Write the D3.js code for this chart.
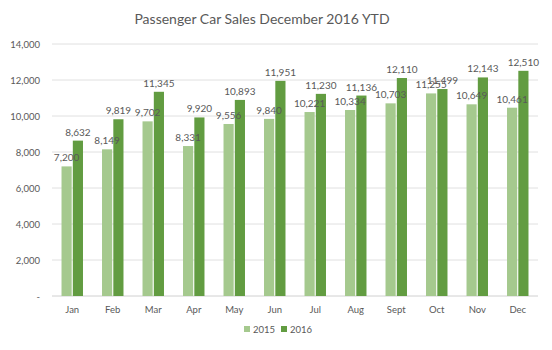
<!DOCTYPE html>
<html>
<head>
<meta charset="utf-8">
<script src="https://cdn.jsdelivr.net/npm/d3@7"></script>
<style>
  body { margin: 0; background: #fff; }
  text { font-family: Lato, "Open Sans", sans-serif; fill: #595959; }
</style>
</head>
<body>
<svg id="chart"></svg>
<script>
// chart data
const months = ['Jan', 'Feb', 'Mar', 'Apr', 'May', 'Jun', 'Jul', 'Aug', 'Sept', 'Oct', 'Nov', 'Dec'];
const years = ['2015', '2016'];
const sales2015 = [7200, 8149, 9702, 8331, 9556, 9840, 10221, 10334, 10703, 11255, 10649, 10461];
const sales2016 = [8632, 9819, 11345, 9920, 10893, 11951, 11230, 11136, 12110, 11499, 12143, 12510];
const yTicks = [0, 2000, 4000, 6000, 8000, 10000, 12000, 14000];

const colors = { '2015': '#a5c98e', '2016': '#629c41' };

const width = 552, height = 350;
const margin = { top: 44, right: 14, bottom: 54, left: 52 };

const svg = d3.select('#chart')
    .attr('width', width)
    .attr('height', height);

// title
svg.append('text')
    .attr('x', 262)
    .attr('y', 24)
    .attr('text-anchor', 'middle')
    .style('font-size', '14px')
    .text('Passenger Car Sales December 2016 YTD');

const xScale = d3.scaleBand()
    .domain(months)
    .range([margin.left, width - margin.right])
    .paddingInner(0.47)
    .paddingOuter(0.235);

const x1 = d3.scaleBand()
    .domain(years)
    .range([0, xScale.bandwidth()])
    .paddingInner(0.1);

const yScale = d3.scaleLinear()
    .domain([0, 14000])
    .range([height - margin.bottom, margin.top]);

// gridlines
svg.append('g')
    .selectAll('line')
    .data(yTicks)
    .join('line')
    .attr('x1', margin.left)
    .attr('x2', width - margin.right)
    .attr('y1', d => yScale(d))
    .attr('y2', d => yScale(d))
    .attr('stroke', d => d === 0 ? '#d0d0d0' : '#e0e0e0')
    .attr('stroke-width', 1);

// y axis labels
const yAxis = d3.axisLeft(yScale)
    .tickValues(yTicks)
    .tickSize(0)
    .tickPadding(12)
    .tickFormat(d => d === 0 ? '-' : d3.format(',')(d));

svg.append('g')
    .attr('transform', `translate(${margin.left},0)`)
    .call(yAxis)
    .call(g => g.select('.domain').remove())
    .selectAll('text')
    .style('font-size', '9.5px')
    .style('fill', '#595959');

// x axis labels
const xAxis = d3.axisBottom(xScale)
    .tickSize(0)
    .tickPadding(10);

svg.append('g')
    .attr('transform', `translate(0,${yScale(0)})`)
    .call(xAxis)
    .call(g => g.select('.domain').remove())
    .selectAll('text')
    .style('font-size', '9.5px')
    .style('fill', '#595959');

const rows = months.map((m, i) => ({ month: m, '2015': sales2015[i], '2016': sales2016[i] }));

const flat = [];
rows.forEach(r => years.forEach(key => flat.push({ month: r.month, key, value: r[key] })));

// bars
svg.append('g')
    .selectAll('rect')
    .data(flat)
    .join('rect')
    .attr('x', d => xScale(d.month) + x1(d.key))
    .attr('y', d => yScale(d.value))
    .attr('width', x1.bandwidth())
    .attr('height', d => yScale(0) - yScale(d.value))
    .attr('fill', d => colors[d.key]);

// data labels on top of all bars
svg.append('g')
    .selectAll('text')
    .data(flat)
    .join('text')
    .attr('x', d => xScale(d.month) + x1(d.key) + x1.bandwidth() / 2)
    .attr('y', d => yScale(d.value) - 5)
    .attr('text-anchor', 'middle')
    .style('font-size', '10px')
    .text(d => d3.format(',')(d.value));

// legend
const legend = svg.append('g')
    .selectAll('g')
    .data(years)
    .join('g')
    .attr('transform', (d, i) => `translate(${244 + i * 37},333)`);

legend.append('rect')
    .attr('x', 0)
    .attr('y', -7)
    .attr('width', 6)
    .attr('height', 6)
    .attr('fill', d => colors[d]);

legend.append('text')
    .attr('x', 9)
    .attr('y', 0)
    .style('font-size', '9.5px')
    .text(d => d);
</script>
</body>
</html>
